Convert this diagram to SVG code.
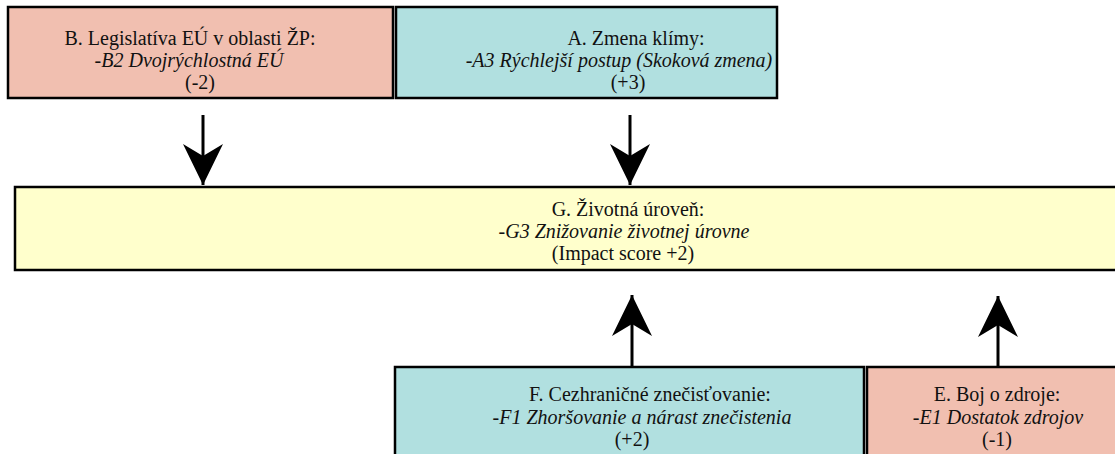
<svg xmlns="http://www.w3.org/2000/svg" width="1115" height="454" viewBox="0 0 1115 454">
<style>
.box{stroke:#000;stroke-width:2.5}
.salmon{fill:#F1BFB0}
.teal{fill:#B1E0E0}
.yellow{fill:#FFFFCC}
text{font-family:"Liberation Serif","Times New Roman",serif;font-size:20px;fill:#111;text-anchor:middle}
.it{font-style:italic}
.conn{stroke:#000;stroke-width:3;fill:none;marker-end:url(#ah)}
</style>
<defs>
<marker id="ah" markerUnits="userSpaceOnUse" viewBox="0 0 42 42" markerWidth="42" markerHeight="42" refX="41" refY="21" orient="auto">
<path d="M0,1 L41,21 L0,41 L12,21 Z" fill="#000"/>
</marker>
</defs>
<rect width="1115" height="454" fill="#fff"/>
<g id="B">
<rect class="box salmon" x="8" y="7" width="385" height="91"/>
<text x="190" y="45">B. Legislatíva EÚ v oblasti ŽP:</text>
<text class="it" x="189" y="67">-B2 Dvojrýchlostná EÚ</text>
<text x="200" y="89">(-2)</text>
</g>
<g id="A">
<rect class="box teal" x="396" y="7" width="381" height="91"/>
<text x="636" y="45">A. Zmena klímy:</text>
<text class="it" x="619" y="67">-A3 Rýchlejší postup (Skoková zmena)</text>
<text x="628" y="89">(+3)</text>
</g>
<g id="G">
<rect class="box yellow" x="15" y="187" width="1110" height="83"/>
<text x="628" y="216">G. Životná úroveň:</text>
<text class="it" x="624" y="238">-G3 Znižovanie životnej úrovne</text>
<text x="623" y="260">(Impact score +2)</text>
</g>
<g id="F">
<rect class="box teal" x="395" y="367" width="469" height="100"/>
<text x="650" y="401">F. Cezhraničné znečisťovanie:</text>
<text class="it" x="642" y="424">-F1 Zhoršovanie a nárast znečistenia</text>
<text x="632" y="446">(+2)</text>
</g>
<g id="E">
<rect class="box salmon" x="867" y="367" width="260" height="100"/>
<text x="997" y="401">E. Boj o zdroje:</text>
<text class="it" x="998" y="424">-E1 Dostatok zdrojov</text>
<text x="997" y="446">(-1)</text>
</g>
<g id="connectors">
<line class="conn" x1="203" y1="115" x2="203" y2="185"/>
<line class="conn" x1="630" y1="115" x2="630" y2="185"/>
<line class="conn" x1="632" y1="366" x2="632" y2="295"/>
<line class="conn" x1="998" y1="366" x2="998" y2="296"/>
</g>
</svg>
